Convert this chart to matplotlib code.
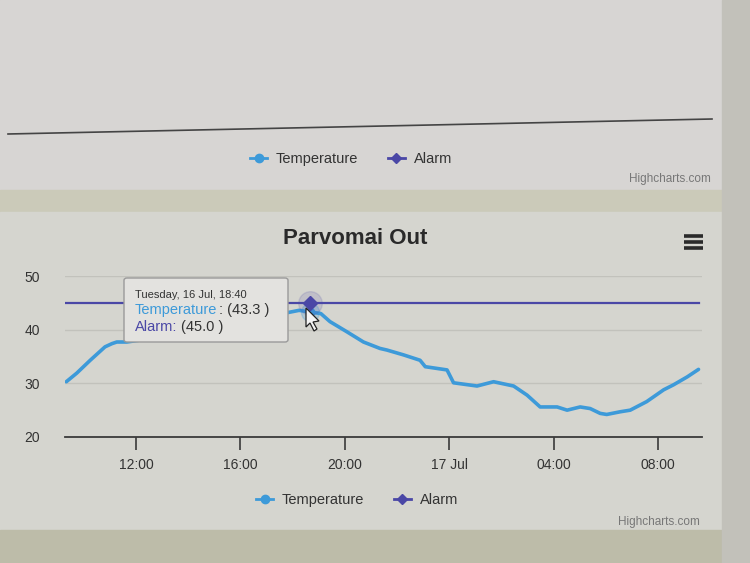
import datetime as dt
import matplotlib
matplotlib.use("Agg")
import matplotlib.pyplot as plt
import matplotlib.dates as mdates
from matplotlib.lines import Line2D
from matplotlib.patches import Rectangle, FancyBboxPatch, Polygon

plt.rcParams["font.family"] = ["Liberation Sans", "DejaVu Sans"]

# readings, 16 Jul -> 17 Jul (part under the tooltip is estimated)
times = ["16 09:20", "16 09:44", "16 10:15", "16 10:49", "16 11:05", "16 11:16",
         "16 11:39", "16 12:30", "16 13:30", "16 14:30", "16 15:30", "16 16:30",
         "16 17:20", "16 17:50", "16 18:15", "16 18:40", "16 19:05", "16 19:26",
         "16 20:05", "16 20:43", "16 21:21", "16 21:37", "16 22:15", "16 22:53",
         "16 23:05", "16 23:55", "17 00:10", "17 01:04", "17 01:42", "17 02:28",
         "17 02:59", "17 03:29", "17 04:08", "17 04:31", "17 05:01", "17 05:24",
         "17 05:47", "17 06:02", "17 06:33", "17 06:56", "17 07:34", "17 08:13",
         "17 08:35", "17 09:07", "17 09:33"]
temperature = [30.3, 31.9, 34.3, 36.8, 37.4, 37.7,
               37.7, 38.3, 39.2, 40.3, 41.2, 42.0,
               42.7, 43.2, 43.6, 43.3, 43.0, 41.5,
               39.6, 37.7, 36.5, 36.2, 35.3, 34.3,
               33.1, 32.5, 30.1, 29.5, 30.3, 29.5,
               27.8, 25.6, 25.6, 25.0, 25.6, 25.3,
               24.4, 24.2, 24.7, 25.0, 26.6, 28.8,
               29.7, 31.2, 32.6]
alarm = [45.0] * len(times)
hover_time = "16 18:40"
hover_temp = 43.3
hover_alarm = 45.0

x = [dt.datetime.strptime("2019 Jul " + t, "%Y %b %d %H:%M") for t in times]
hx = dt.datetime.strptime("2019 Jul " + hover_time, "%Y %b %d %H:%M")

TEMP_C = "#3d9ad9"
ALARM_C = "#4a47a6"
TEXT_C = "#333333"

W, H = 750, 563
fig = plt.figure(figsize=(7.5, 5.63), dpi=100, facecolor="#d3d1cf")


def fx(px):
    return px / W


def fy(py):
    return 1 - py / H


# photo background blocks
bg = [((0, 0, 722, 190), "#d7d5d3"), ((0, 190, 722, 22), "#cbcab9"),
      ((0, 212, 722, 318), "#d5d5cf"), ((0, 530, 722, 33), "#bdbca9"),
      ((722, 0, 28, 563), "#c2c1ba")]
for (bx, by, bw, bh), c in bg:
    fig.patches.append(Rectangle((fx(bx), fy(by + bh)), bw / W, bh / H,
                                 transform=fig.transFigure, color=c, zorder=-1))

# bottom of the previous chart
fig.add_artist(Line2D([fx(8), fx(712)], [fy(134), fy(119)], color="#444444", lw=1.2))
fig.text(fx(711), fy(179), "Highcharts.com", ha="right", va="center",
         fontsize=8.5, color="#777777")


def legend_at(xpx, ypx):
    handles = [Line2D([], [], color=TEMP_C, lw=2, marker="o", ms=6),
               Line2D([], [], color=ALARM_C, lw=2, marker="D", ms=5)]
    fig.legend(handles, ["Temperature", "Alarm"], loc="center",
               bbox_to_anchor=(fx(xpx), fy(ypx)), ncol=2, frameon=False,
               fontsize=10.5, handlelength=1.2, handletextpad=0.6,
               columnspacing=2.0, labelcolor=TEXT_C)


legend_at(351, 159)

# main chart
ax = fig.add_axes([fx(65), fy(437), (702 - 65) / W, (437 - 276) / H])
ax.set_zorder(1)
ax.set_facecolor("none")
ax.plot(x, temperature, color=TEMP_C, lw=2.6, zorder=3, solid_capstyle="round")
ax.plot(x, alarm, color=ALARM_C, lw=1.6, zorder=3)

# hovered points
ax.plot([hx], [hover_temp], "o", ms=13, color=TEMP_C, alpha=0.25, zorder=4)
ax.plot([hx], [hover_temp], "o", ms=6, color=TEMP_C, zorder=4)
ax.plot([hx], [hover_alarm], "o", ms=17, color=ALARM_C, alpha=0.15, zorder=5)
ax.plot([hx], [hover_alarm], "D", ms=7, color=ALARM_C, zorder=5)

ax.set_ylim(20, 50)
ax.set_yticks([20, 30, 40, 50])
ax.set_xlim(dt.datetime(2019, 7, 16, 9, 17), dt.datetime(2019, 7, 17, 9, 41))
ax.xaxis.set_major_locator(mdates.HourLocator(byhour=[0, 4, 8, 12, 16, 20]))
ax.xaxis.set_major_formatter(plt.FuncFormatter(
    lambda v, p: mdates.num2date(v).strftime("%d %b") if mdates.num2date(v).hour == 0
    else mdates.num2date(v).strftime("%H:%M")))
ax.grid(axis="y", color="#c2c2bc", lw=1)
for s in ["top", "right", "left"]:
    ax.spines[s].set_visible(False)
ax.spines["bottom"].set_color("#3a3a3a")
ax.spines["bottom"].set_linewidth(1.3)
ax.tick_params(axis="x", length=9, width=1.2, color="#3a3a3a", pad=6,
               labelsize=10, labelcolor=TEXT_C)
ax.tick_params(axis="y", length=0, pad=18, labelsize=10, labelcolor=TEXT_C)

fig.text(fx(355), fy(239), "Parvomai Out", ha="center", va="center",
         fontsize=16, fontweight="bold", color="#2a2a2a")
for yy in (236, 242, 248):
    fig.add_artist(Line2D([fx(684), fx(703)], [fy(yy), fy(yy)], color="#2a2a2a",
                          lw=2.6, solid_capstyle="butt"))

# tooltip
tip = FancyBboxPatch((fx(124), fy(342)), (288 - 124) / W, (342 - 278) / H,
                     boxstyle="round,pad=0,rounding_size=0.004",
                     transform=fig.transFigure, facecolor="#e3e2df",
                     edgecolor="#9a9a9a", lw=1, zorder=10)
fig.patches.append(tip)
fig.text(fx(135), fy(295), "Tuesday, 16 Jul, 18:40", fontsize=8,
         color=TEXT_C, va="center", zorder=11)
fig.text(fx(135), fy(310), "Temperature", fontsize=10.5, color=TEMP_C,
         va="center", zorder=11)
fig.text(fx(219), fy(310), ": (43.3 )", fontsize=10.5, color=TEXT_C,
         va="center", zorder=11)
fig.text(fx(135), fy(327), "Alarm:", fontsize=10.5, color=ALARM_C,
         va="center", zorder=11)
fig.text(fx(181), fy(327), "(45.0 )", fontsize=10.5, color=TEXT_C,
         va="center", zorder=11)

# mouse pointer
cur = [(306, 308), (306, 327), (310, 323), (314, 331), (317, 329), (313, 322), (319, 321)]
fig.patches.append(Polygon([(fx(a), fy(b)) for a, b in cur], closed=True,
                           transform=fig.transFigure, facecolor="#f4f4f4",
                           edgecolor="#222222", lw=0.9, zorder=12))

legend_at(357, 500)
fig.text(fx(700), fy(522), "Highcharts.com", ha="right", va="center",
         fontsize=8.5, color="#777777")

fig.savefig("out.png", dpi=100, facecolor=fig.get_facecolor())
